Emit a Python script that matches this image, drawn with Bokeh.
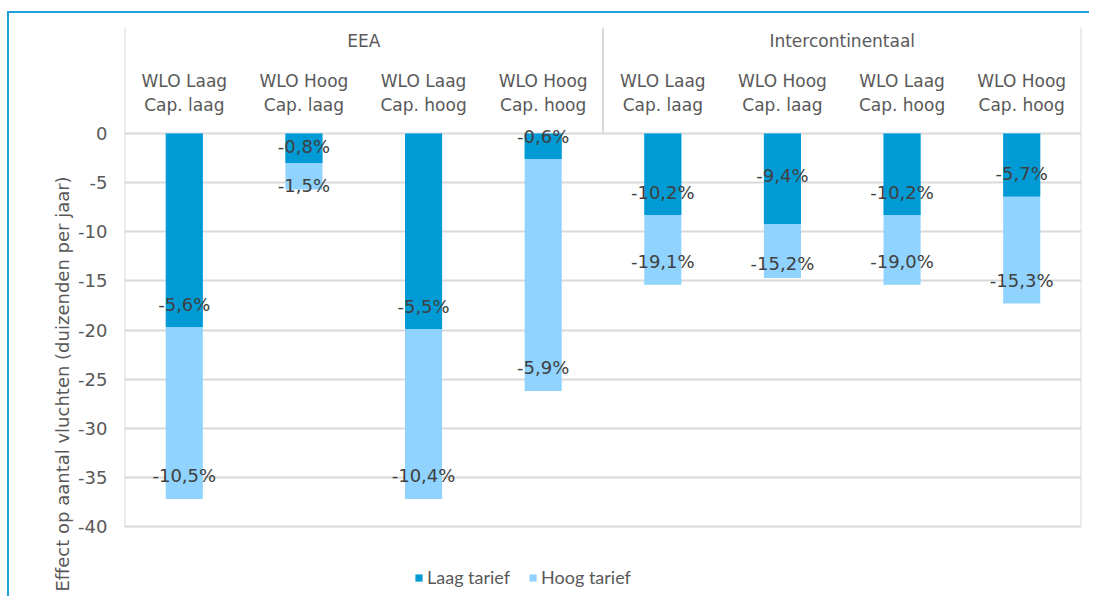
from bokeh.plotting import figure
from bokeh.models import Range1d, FixedTicker, ColumnDataSource, Legend, LegendItem, Title
from bokeh.core.properties import value
from bokeh.embed import file_html
from bokeh.resources import INLINE

# ---------------- data ----------------
groups = ["EEA", "Intercontinentaal"]
scenarios = ["WLO Laag\nCap. laag", "WLO Hoog\nCap. laag", "WLO Laag\nCap. hoog", "WLO Hoog\nCap. hoog"]
series_names = ["Laag tarief", "Hoog tarief"]
laag_tarief = [-19.7, -3.0, -19.9, -2.6, -8.3, -9.2, -8.3, -6.4]
hoog_tarief = [-37.2, -5.7, -37.2, -26.2, -15.4, -14.7, -15.4, -17.3]
laag_labels = ["-5,6%", "-0,8%", "-5,5%", "-0,6%", "-10,2%", "-9,4%", "-10,2%", "-5,7%"]
hoog_labels = ["-10,5%", "-1,5%", "-10,4%", "-5,9%", "-19,1%", "-15,2%", "-19,0%", "-15,3%"]
y_ticks = [0, -5, -10, -15, -20, -25, -30, -35, -40]
y_title = "Effect op aantal vluchten (duizenden per jaar)"

# ---------------- style ----------------
DARK = "#009BD5"
LIGHT = "#8FD3FE"
GRID = "#D9D9D9"
TXT = "#595959"
LBL = "#404040"
FONT = "DejaVu Sans"
FS = "17px"
FS_BIG = "18px"

W, H = 1082, 585
ML, MR, MT, MB = 115, 10, 14, 0
HEADER_PX = 106
px_per_unit = 393 / 40.0
y_min = min(y_ticks)
y_top = HEADER_PX / px_per_unit
y_lo = y_top - (H - MT - MB) / px_per_unit

n_groups = len(groups)
n_sc = len(scenarios)
n = n_groups * n_sc
xs = [i + 0.5 for i in range(n)]

p = figure(width=W, height=H, output_backend="svg", toolbar_location=None,
           x_range=Range1d(0, n), y_range=Range1d(y_lo, y_top),
           min_border_left=ML, min_border_right=MR, min_border_top=MT, min_border_bottom=MB,
           x_axis_location=None)
p.styles = {"border-top": "2px solid #22A0DA", "border-left": "2px solid #22A0DA",
            "position": "relative", "top": "11px", "left": "7px"}
p.outline_line_color = None
p.xgrid.visible = False
p.ygrid.ticker = FixedTicker(ticks=y_ticks)
p.ygrid.grid_line_color = GRID
p.ygrid.grid_line_width = 2
p.yaxis.ticker = FixedTicker(ticks=y_ticks)
p.yaxis.major_label_overrides = {t: str(t) for t in y_ticks}
p.yaxis.axis_line_color = None
p.yaxis.major_tick_line_color = None
p.yaxis.minor_tick_line_color = None
p.yaxis.major_tick_out = 0
p.yaxis.major_tick_in = 0
p.yaxis.major_label_standoff = 17
p.yaxis.major_label_text_font = FONT
p.yaxis.major_label_text_font_size = FS_BIG
p.yaxis.major_label_text_color = TXT

# y axis title
p.add_layout(Title(text=y_title, align="left", offset=7, standoff=6,
                   text_font=FONT, text_font_size=FS_BIG, text_font_style="normal",
                   text_color=TXT), "left")

# separators of the category header
seg_x = [g * n_sc for g in range(n_groups + 1)]
seg_y1 = [y_min if (x == 0 or x == n) else 0 for x in seg_x]
p.segment(x0=seg_x, x1=seg_x, y0=[y_top] * len(seg_x), y1=seg_y1,
          line_color=GRID, line_width=2)

# bars (overlapping: hoog behind, laag in front)
src = ColumnDataSource(dict(x=xs, laag=laag_tarief, hoog=hoog_tarief))
r_hoog = p.vbar(x="x", top=0, bottom="hoog", width=0.31, fill_color=LIGHT, line_color=None, source=src)
r_laag = p.vbar(x="x", top=0, bottom="laag", width=0.31, fill_color=DARK, line_color=None, source=src)

# data labels (inside end, with a few manual nudges as in the original)
default_px = 23
nudge_laag = {1: 16, 5: 48}
nudge_hoog = {1: 4, 5: 14}
ly = [v + nudge_laag.get(i, default_px) / px_per_unit for i, v in enumerate(laag_tarief)]
hy = [v + nudge_hoog.get(i, default_px) / px_per_unit for i, v in enumerate(hoog_tarief)]
p.text(x=xs, y=hy, text=hoog_labels, text_align="center", text_baseline="middle",
       text_font=value(FONT), text_font_size=FS_BIG, text_color=LBL)
p.text(x=xs, y=ly, text=laag_labels, text_align="center", text_baseline="middle",
       text_font=value(FONT), text_font_size=FS_BIG, text_color=LBL)

# category header
sc_y = (133 - 92) / px_per_unit
gr_y = (133 - 40) / px_per_unit
p.text(x=xs, y=[sc_y] * n, text=scenarios * n_groups, text_align="center",
       text_baseline="middle", text_line_height=1.2,
       text_font=value(FONT), text_font_size=FS, text_color=TXT)
p.text(x=[g * n_sc + n_sc / 2 for g in range(n_groups)], y=[gr_y] * n_groups, text=groups,
       text_align="center", text_baseline="middle",
       text_font=value(FONT), text_font_size=FS, text_color=TXT)

# legend
legend = Legend(items=[LegendItem(label=series_names[0], renderers=[r_laag]),
                       LegendItem(label=series_names[1], renderers=[r_hoog])],
                orientation="horizontal", location=(290, 10),
                padding=0, margin=0, spacing=18, glyph_width=9, glyph_height=9,
                label_standoff=4, border_line_color=None, background_fill_alpha=0,
                label_text_font="Lato", label_text_font_size="18px", label_text_color=TXT)
p.add_layout(legend, "center")

open("out.html", "w").write(file_html(p, INLINE))
